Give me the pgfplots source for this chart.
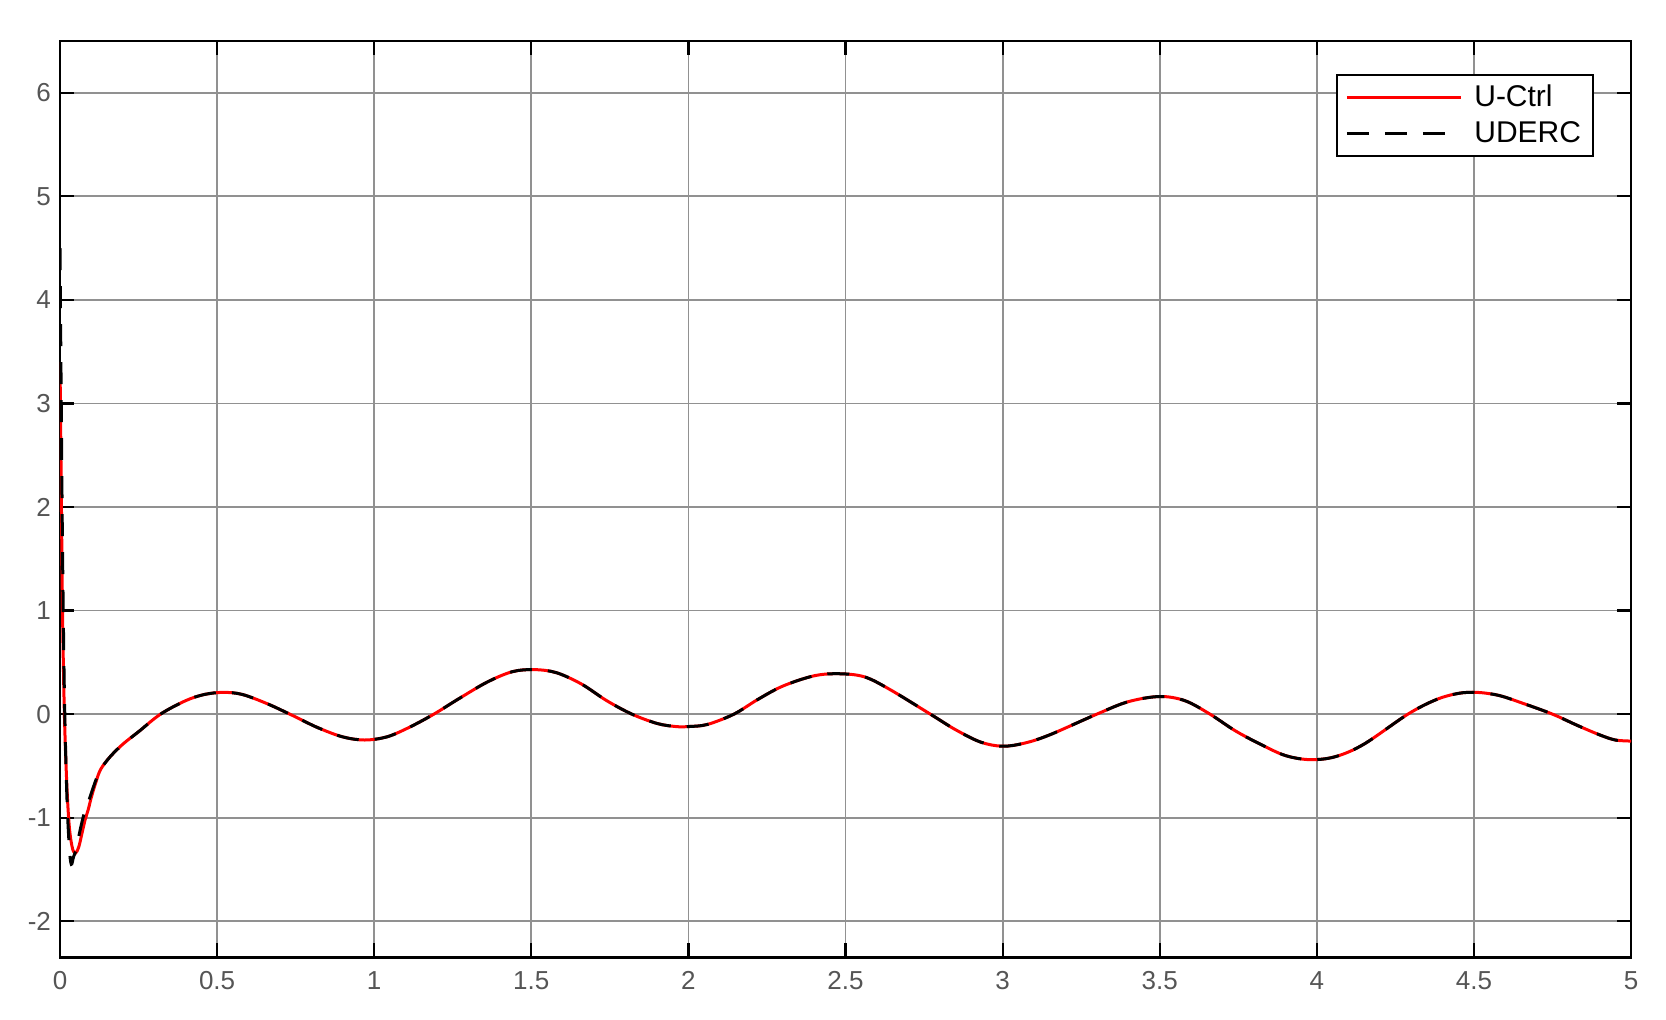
\documentclass[border=0pt]{standalone}
\usepackage{pgfplots}
\pgfplotsset{compat=1.18}
\usepackage{fontspec}
\setmainfont{Liberation Sans}
\definecolor{tickgray}{RGB}{85,85,85}
\definecolor{gridgray}{RGB}{145,145,145}
\definecolor{mred}{RGB}{255,0,0}
\begin{document}
\begin{tikzpicture}
\begin{axis}[
  scale only axis,
  width=785.5pt, height=458.25pt,
  xmin=0, xmax=5, ymin=-2.35, ymax=6.5,
  xtick={0,0.5,...,5}, ytick={-2,-1,...,6},
  grid=major,
  major grid style={color=gridgray, line width=0.9pt},
  axis line style={black, line width=1.1pt},
  major tick length=7pt,
  tick style={black, line width=1.1pt},
  tick align=inside,
  /pgf/number format/assume math mode=true,
  ticklabel style={font=\fontsize{13}{15}\selectfont, text=tickgray},
  xticklabel style={yshift=-3.5pt},
  yticklabel style={xshift=-1pt},
  legend style={at={(1,1)}, anchor=north east, xshift=-18.5pt, yshift=-16.5pt,
    draw=black, line width=1pt, font=\fontsize{15}{18}\selectfont,
    inner xsep=4pt, inner ysep=3pt, row sep=2pt},
  legend cell align=left,
  legend image code/.code={\draw[#1] (0pt,0pt) -- (57pt,0pt); \path (61pt,0pt);},
]
\addplot[mred, line width=1.5pt, smooth, tension=0.55] coordinates {
(0,3.4)(0.004,2.2)(0.008,1.0)(0.014,0.0)(0.022,-0.7)(0.03,-1.1)(0.04,-1.3)(0.05,-1.34)(0.06,-1.28)(0.07,-1.15)(0.08,-1.02)(0.09,-0.92)(0.1,-0.8)(0.115,-0.65)
(0.13,-0.53)(0.16,-0.41)(0.20,-0.29)(0.25,-0.17)(0.32,0.00)(0.40,0.13)(0.46,0.19)(0.52,0.21)(0.58,0.19)(0.66,0.10)(0.745,-0.02)(0.82,-0.13)(0.90,-0.22)(0.97,-0.25)(1.04,-0.22)(1.11,-0.13)(1.19,0.00)(1.27,0.15)(1.36,0.31)(1.44,0.41)(1.51,0.43)(1.58,0.40)(1.66,0.29)(1.74,0.13)(1.82,0.00)(1.90,-0.09)(1.96,-0.12)(2.00,-0.12)(2.06,-0.10)(2.145,0.00)(2.22,0.14)(2.30,0.27)(2.40,0.37)(2.48,0.39)(2.56,0.36)(2.64,0.24)(2.77,0.00)(2.85,-0.15)(2.93,-0.27)(3.00,-0.31)(3.07,-0.28)(3.15,-0.20)(3.30,0.00)(3.40,0.12)(3.50,0.17)(3.58,0.13)(3.66,0.00)(3.74,-0.16)(3.82,-0.29)(3.90,-0.40)(3.98,-0.44)(4.06,-0.41)(4.15,-0.29)(4.29,0.00)(4.38,0.14)(4.45,0.20)(4.51,0.21)(4.58,0.18)(4.66,0.10)(4.75,0.00)(4.83,-0.11)(4.90,-0.20)(4.95,-0.25)(5.00,-0.26)
};
\addlegendentry{U-Ctrl}
\addplot[black, line width=1.5pt, dash pattern=on 11pt off 8pt, smooth, tension=0.55] coordinates {
(0,4.5)(0.004,3.0)(0.008,1.6)(0.014,0.2)(0.022,-0.8)(0.03,-1.3)(0.036,-1.45)(0.043,-1.38)(0.052,-1.3)(0.062,-1.15)(0.075,-0.98)(0.09,-0.85)(0.1,-0.76)(0.115,-0.63)
(0.13,-0.53)(0.16,-0.41)(0.20,-0.29)(0.25,-0.17)(0.32,0.00)(0.40,0.13)(0.46,0.19)(0.52,0.21)(0.58,0.19)(0.66,0.10)(0.745,-0.02)(0.82,-0.13)(0.90,-0.22)(0.97,-0.25)(1.04,-0.22)(1.11,-0.13)(1.19,0.00)(1.27,0.15)(1.36,0.31)(1.44,0.41)(1.51,0.43)(1.58,0.40)(1.66,0.29)(1.74,0.13)(1.82,0.00)(1.90,-0.09)(1.96,-0.12)(2.00,-0.12)(2.06,-0.10)(2.145,0.00)(2.22,0.14)(2.30,0.27)(2.40,0.37)(2.48,0.39)(2.56,0.36)(2.64,0.24)(2.77,0.00)(2.85,-0.15)(2.93,-0.27)(3.00,-0.31)(3.07,-0.28)(3.15,-0.20)(3.30,0.00)(3.40,0.12)(3.50,0.17)(3.58,0.13)(3.66,0.00)(3.74,-0.16)(3.82,-0.29)(3.90,-0.40)(3.98,-0.44)(4.06,-0.41)(4.15,-0.29)(4.29,0.00)(4.38,0.14)(4.45,0.20)(4.51,0.21)(4.58,0.18)(4.66,0.10)(4.75,0.00)(4.83,-0.11)(4.90,-0.20)(4.95,-0.25)(5.00,-0.26)
};
\addlegendentry{UDERC}
\end{axis}
\path ([shift={(-30pt,-31.25pt)}]current axis.south west) rectangle ([shift={(17.5pt,20.5pt)}]current axis.north east);
\end{tikzpicture}
\end{document}
